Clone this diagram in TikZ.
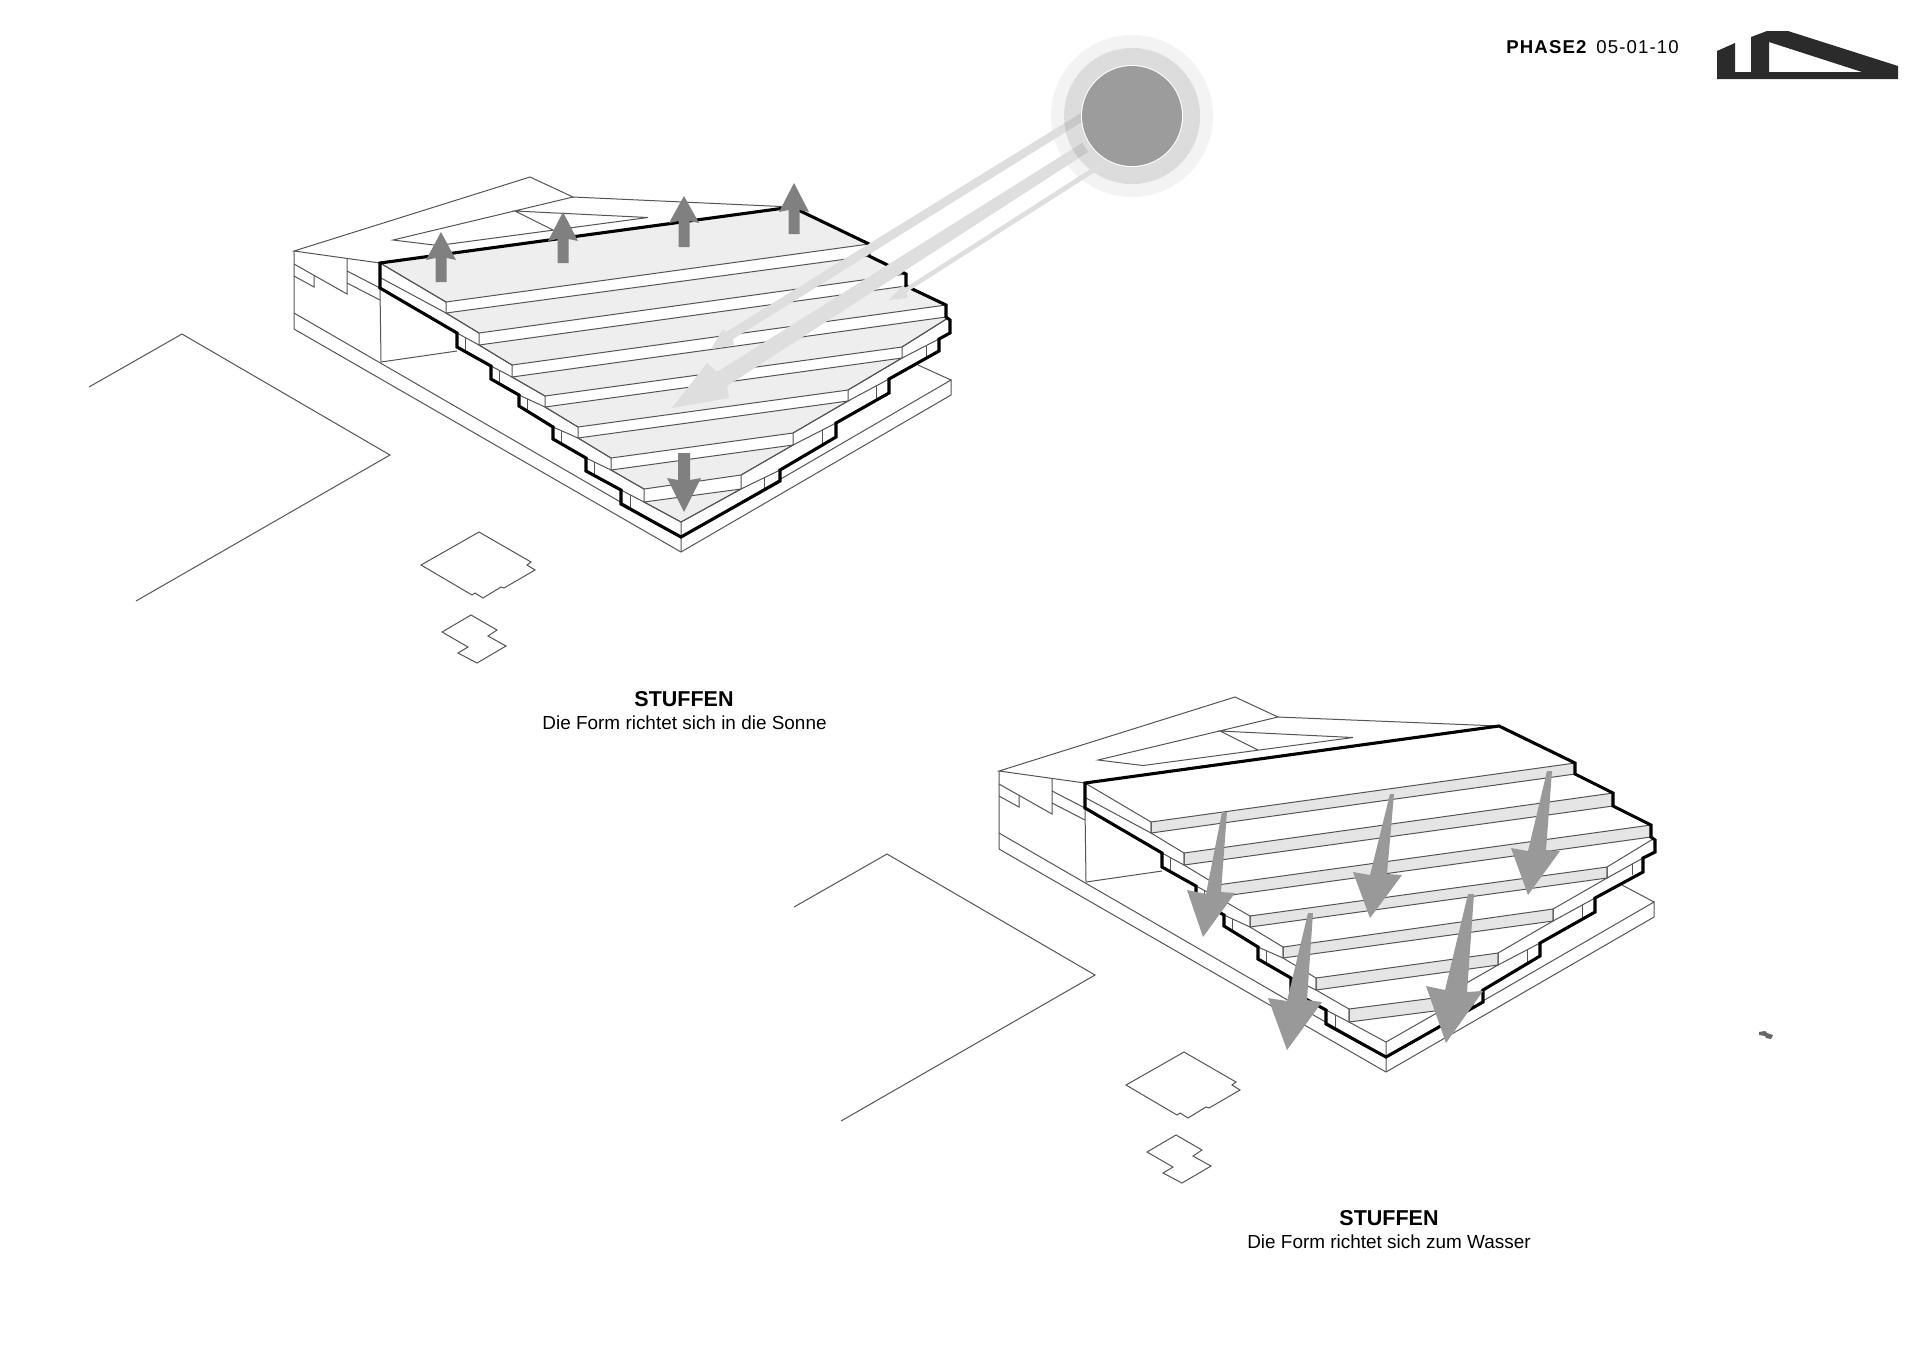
\documentclass[tikz,border=0pt]{standalone}
\usepackage{fontspec}
\setmainfont{Liberation Sans}
\definecolor{thinc}{HTML}{555555}
\definecolor{surfc}{HTML}{EEEEEE}
\definecolor{risec}{HTML}{E5E5E5}
\definecolor{arrU}{HTML}{808080}
\definecolor{arrL}{HTML}{999999}
\definecolor{rayc}{HTML}{DEDEDE}
\definecolor{raydark}{HTML}{C8C8C8}
\definecolor{sunA}{HTML}{9C9C9C}
\definecolor{sunB}{HTML}{DCDCDC}
\definecolor{sunC}{HTML}{F3F3F3}
\definecolor{logoc}{HTML}{2B2B2B}
\tikzset{
  thinl/.style={draw=thinc,line width=0.5pt,line join=miter},
  heavy/.style={draw=black,line width=1.55pt,line join=miter},
  surfU/.style={thinl,fill=surfc},
  riseL/.style={thinl,fill=risec},
  upgray/.style={fill=arrU},
  lowgray/.style={fill=arrL},
  raypoly/.style={fill=rayc},
  caph/.style={inner sep=0pt,font=\fontsize{10.75}{12}\selectfont\bfseries},
  capt/.style={inner sep=0pt,font=\fontsize{9.47}{11}\selectfont},
  headt/.style={inner sep=0pt,anchor=west,font=\fontsize{9.3}{11}\selectfont\addfontfeature{LetterSpace=6}}
}
% the parts that both isometric drawings share, in the coordinates of the upper one
\newcommand{\commonparts}{%
  \draw[thinl] (380,263)--(294,251)--(530,177)--(573,197)--(393,240)--(438,245.5)--(648,217.5)--(515,211)--(553,230);
  \draw[thinl] (294,251)--(294,329)--(681,552);
  \draw[thinl] (294,313)--(681,537)--(681,552);
  \draw[thinl] (347,259)--(347,294)--(294,264);
  \draw[thinl] (294,276)--(314,287)--(314,275);
  \draw[thinl] (347,271)--(380,288);
  \draw[thinl] (347,283)--(380,300);
  \draw[thinl] (380,288)--(381,362)--(457,351);
  \draw[thinl] (89,387)--(182,334)--(390,455)--(136,601);
  \draw[thinl] (479,532)--(531,562)--(527,565)--(535,570)--(504,588)--(501,587)--(483,598)--(475,593)--(472,595)--(421,565)--cycle;
  \draw[thinl] (471,615)--(497,630)--(488,636)--(506,646)--(477,663)--(458,653)--(468,647)--(442,632)--cycle;
  \draw[thinl] (380,263)--(446,302)--(446,313);
  \draw[thinl] (381,278)--(446,313)--(479,333)--(479,345)--(512,365)--(512,377)--(545,396)--(545,407)--(578,427)--(578,438)--(611,458)--(611,470)--(644,489)--(644,502)--(681,522)--(681,537);
  \draw[thinl] (457,333)--(479,345);
  \draw[thinl] (491,366)--(512,377);
  \draw[thinl] (519,395)--(545,407);
  \draw[thinl] (553,427)--(578,438);
  \draw[thinl] (586,458)--(611,470);
  \draw[thinl] (621,490)--(644,502);
  \draw[thinl] (465,338)--(465,351.5);
  \draw[thinl] (499,370)--(499,384);
  \draw[thinl] (527,398.5)--(527,411);
  \draw[thinl] (561,431)--(561,444);
  \draw[thinl] (594,462)--(594,475);
  \draw[thinl] (630,495)--(630,509);
}
% x, tip y, notch y, tail y
\newcommand{\grayup}[4]{\fill[upgray] (#1,#2)--({#1+15},{#3+2})--({#1+5.5},#3)--({#1+5.5},#4)--({#1-5.5},#4)--({#1-5.5},#3)--({#1-15},{#3+2})--cycle;}
\begin{document}
\begin{tikzpicture}[x=0.5pt,y=-0.5pt]
\useasboundingbox (0,0) rectangle (1920,1357);
\fill[white] (0,0) rectangle (1920,1357);

%%% header
\node[headt] (phase) at (1506,47) {\bfseries PHASE2};
\node[headt] (date) at (1596,47) {05-01-10};
\fill[logoc,even odd rule] (1717,51)--(1735,43)--(1735,72)--(1751,72)--(1751,37)--(1767,31)--(1788,31)--(1898,66)--(1898,79)--(1717,79)--cycle
  (1769,42)--(1862,72)--(1769,72)--cycle;

%%% upper drawing
\filldraw[surfU] (380,263)--(792,207)--(869,244)--(446,302)--cycle;
\filldraw[surfU] (446,313)--(869,256)--(906,274)--(479,333)--cycle;
\filldraw[surfU] (479,345)--(906,286)--(946,305)--(512,365)--cycle;
\filldraw[surfU] (512,377)--(946,317)--(948,318)--(902,347)--(545,396)--cycle;
\filldraw[surfU] (545,407)--(902,358)--(848,390)--(578,427)--cycle;
\filldraw[surfU] (578,438)--(848,401)--(793,433)--(611,458)--cycle;
\filldraw[surfU] (611,470)--(793,445)--(741,475)--(644,489)--cycle;
\filldraw[surfU] (644,502)--(741,489)--(681,522)--cycle;
\commonparts
% right-hand edge lines, upper
\draw[thinl] (681,522)--(741,489)--(741,475)--(793,445)--(793,433)--(848,401)--(848,390)--(902,358)--(902,347)--(948,318)--(950,320);
\draw[thinl] (741,489)--(780,470);
\draw[thinl] (793,445)--(836,423);
\draw[thinl] (848,401)--(889,379);
\draw[thinl] (902,358)--(939,339);
\draw[thinl] (764,478)--(764,490);
\draw[thinl] (822,430)--(822,445);
\draw[thinl] (876,386)--(876,400);
\draw[thinl] (926,346)--(926,358);
\draw[thinl] (681,537)--(951,380)--(951,395)--(681,552);
\draw[thinl] (951,380)--(918,365);
\draw[thinl] (573,197)--(792,207);
\draw[heavy] (792,207)--(380,263)--(380,288)--(457,333)--(457,347)--(491,366)--(491,379)--(519,395)--(519,406)--(553,427)--(553,439)--(586,458)--(586,471)--(621,490)--(621,504)--(681,537)--(780,481)--(780,470)--(836,437)--(836,423)--(889,393)--(889,379)--(939,351)--(939,339)--(950,333)--(950,320)--(946,317)--(946,305)--(906,286)--(906,274)--(869,256)--(869,244)--cycle;

% sun with its rays
\fill[sunC] (1132,116) circle[radius=81];
\fill[sunB] (1132,116) circle[radius=68];
\fill[raypoly] (1081,113)--(726,332)--(723,329)--(711,349)--(734,345)--(733,339)--(1085,120)--cycle;
\fill[raypoly] (1082,143)--(717,372)--(707,363)--(672,408)--(729,398)--(727,386)--(1088,152)--cycle;
\fill[raypoly] (1103,161)--(905,288)--(903,285)--(889,300)--(907,298)--(907,292)--(1106,165)--cycle;
\begin{scope}
  \clip (1132,116) circle[radius=68];
  \fill[raydark] (1081,113)--(1000,163)--(1004,170)--(1085,120)--cycle;
  \fill[raydark] (1082,143)--(1000,194)--(1006,203)--(1088,152)--cycle;
\end{scope}
\fill[white] (1132,116) circle[radius=51];
\fill[sunA] (1132,116) circle[radius=50];

% grey arrows, upper
\grayup{441}{232}{258}{282}
\grayup{563}{212}{239}{263}
\grayup{684}{196}{221}{247}
\grayup{794}{183}{210}{234}
\fill[upgray] (684,512)--(667,478)--(678,480)--(678,453)--(690,453)--(690,480)--(701,478)--cycle;

\node[caph] (titleA) at (684,699) {STUFFEN};
\node[capt] (subA) at (684.5,722.5) {Die Form richtet sich in die Sonne};

%%% lower drawing
\filldraw[riseL] (1151,822)--(1575,763)--(1575,774)--(1151,833)--cycle;
\filldraw[riseL] (1184,853)--(1613,793)--(1613,806)--(1184,865)--cycle;
\filldraw[riseL] (1217,885)--(1651,825)--(1651,837)--(1217,897)--cycle;
\filldraw[riseL] (1250,916)--(1607,867)--(1607,878)--(1250,927)--cycle;
\filldraw[riseL] (1283,947)--(1553,909)--(1553,921)--(1283,958)--cycle;
\filldraw[riseL] (1316,978)--(1498,953)--(1498,965)--(1316,990)--cycle;
\filldraw[riseL] (1349,1009)--(1442,997)--(1442,1010)--(1349,1022)--cycle;
\begin{scope}[shift={(705,520)}]
  \commonparts
\end{scope}
\draw[thinl] (1386,1042)--(1442,1010)--(1442,997)--(1498,965)--(1498,953)--(1553,921)--(1553,909)--(1607,878)--(1607,867)--(1653,839);
\draw[thinl] (1442,1010)--(1483,990);
\draw[thinl] (1498,965)--(1540,943);
\draw[thinl] (1553,921)--(1595,898);
\draw[thinl] (1607,878)--(1643,858);
\draw[thinl] (1473,995)--(1473,1008);
\draw[thinl] (1527,950)--(1527,962);
\draw[thinl] (1582,905)--(1582,918);
\draw[thinl] (1632,864)--(1632,875);
\draw[thinl] (1386,1057)--(1654,902)--(1654,917)--(1386,1072);
\draw[thinl] (1654,902)--(1622,885);
\draw[thinl] (1278,717)--(1499,726);
\draw[heavy] (1499,726)--(1085,783)--(1085,808)--(1162,853)--(1162,867)--(1196,886)--(1196,899)--(1224,915)--(1224,926)--(1258,947)--(1258,959)--(1291,978)--(1291,991)--(1326,1010)--(1326,1024)--(1386,1057)--(1483,1002)--(1483,990)--(1540,956)--(1540,943)--(1595,912)--(1595,898)--(1643,872)--(1643,858)--(1655,852)--(1655,840)--(1651,837)--(1651,825)--(1613,806)--(1613,793)--(1575,774)--(1575,763)--cycle;

% grey arrows, lower
\fill[lowgray] (1222,812)--(1227,812)--(1221,892)--(1235,893)--(1203,937)--(1187,890)--(1206,894)--cycle;
\fill[lowgray] (1390,794)--(1394,794)--(1387,874)--(1402,875)--(1370,918)--(1353,872)--(1370,875)--cycle;
\fill[lowgray] (1547,771)--(1552,771)--(1546,850)--(1560,851)--(1528,895)--(1511,848)--(1528,851)--cycle;
\fill[lowgray] (1308,913)--(1313,913)--(1307,1000)--(1322,1002)--(1287,1050)--(1268,998)--(1287,1001)--cycle;
\fill[lowgray] (1468,894)--(1474,894)--(1467,992)--(1483,991)--(1446,1043)--(1426,986)--(1445,990)--cycle;

\node[caph] (titleB) at (1389,1218) {STUFFEN};
\node[capt] (subB) at (1389,1242) {Die Form richtet sich zum Wasser};

% small speck at the right
\fill[black!60] (1759,1032)--(1765,1031)--(1767,1033)--(1773,1035)--(1771,1039)--(1766,1038)--(1765,1036)--(1759,1035)--cycle;
\end{tikzpicture}
\end{document}
